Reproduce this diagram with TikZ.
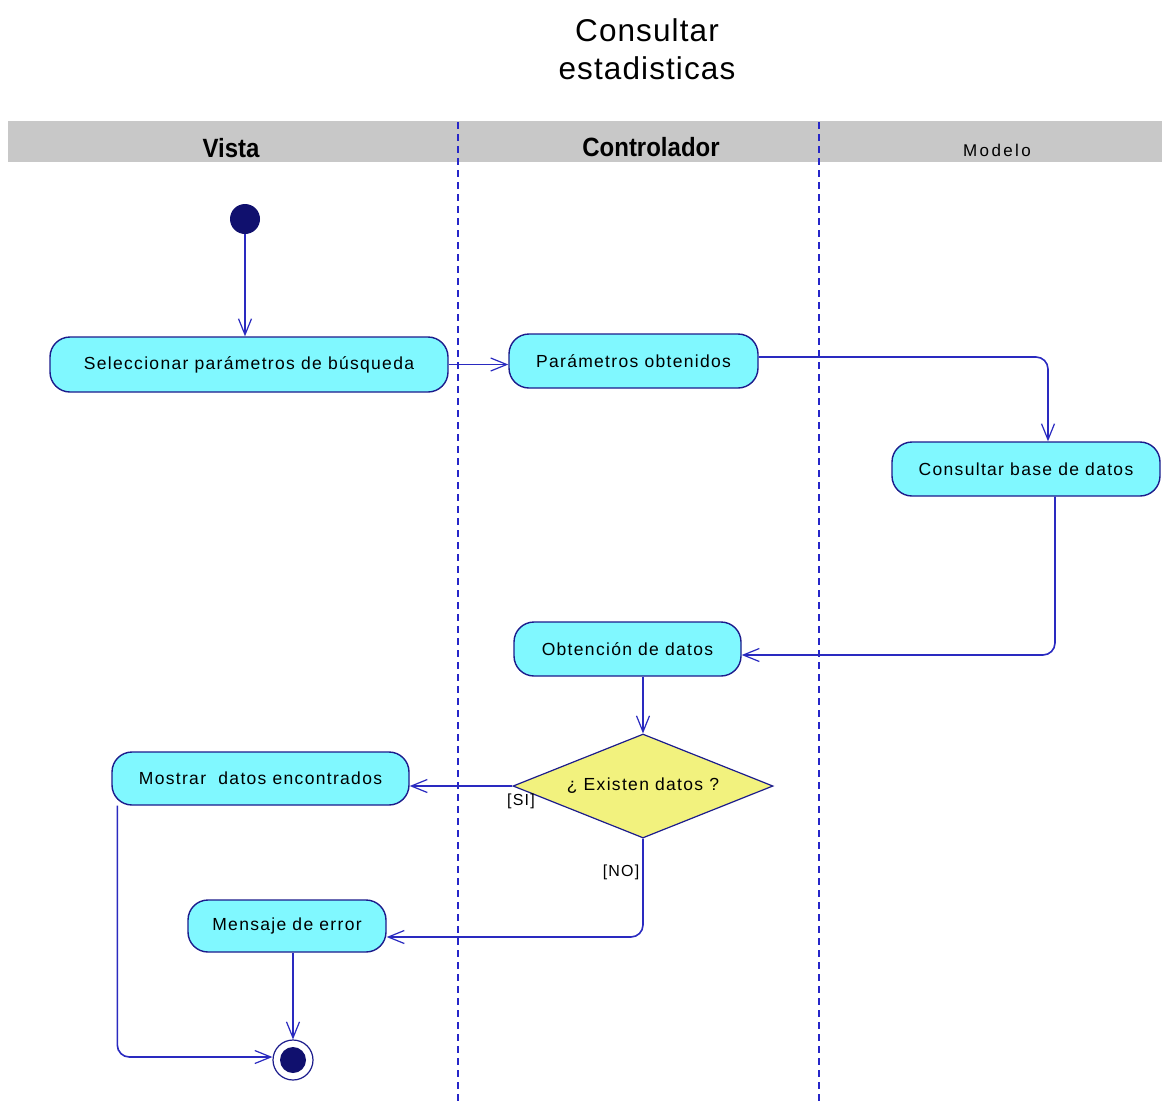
\documentclass[tikz,border=0pt]{standalone}
\usepackage{fontspec}
\setmainfont{Liberation Sans}
\newfontfamily\uifont[LetterSpace=7.5]{Liberation Sans}
\newfontfamily\smallfont[LetterSpace=14]{Liberation Sans}
\newfontfamily\titlefont[LetterSpace=3.5]{Liberation Sans}
\newfontfamily\lanefont{Liberation Sans}
\usetikzlibrary{shapes.geometric,arrows.meta,calc}
\definecolor{actfill}{HTML}{80F8FF}
\definecolor{actdraw}{HTML}{1C1C8C}
\definecolor{flow}{HTML}{2A2AC0}
\definecolor{decfill}{HTML}{F2F27E}
\definecolor{navy}{HTML}{10106E}
\definecolor{band}{HTML}{C8C8C8}
\definecolor{lane}{HTML}{2626C8}
\tikzset{
  activity/.style={draw=actdraw, line width=1.4pt, fill=actfill, rounded corners=20pt,
    inner sep=0pt, align=center, font=\uifont\fontsize{17.5}{20}\selectfont},
  decision/.style={draw=actdraw, line width=1.2pt, fill=decfill, diamond, inner sep=0pt,
    minimum width=260pt, minimum height=104pt},
  flowline/.style={draw=flow, line width=1.6pt, rounded corners=12pt,
    -{Straight Barb[length=16pt,width=13pt,line width=1.2pt]}},
  guard/.style={font=\uifont\fontsize{16}{18}\selectfont, inner sep=0pt},
  laneline/.style={draw=lane, line width=1.3pt, dash pattern=on 7pt off 5pt},
}
\begin{document}
\begin{tikzpicture}[x=1pt,y=-1pt]
  \useasboundingbox (0,0) rectangle (1162,1104);
  \fill[white] (0,0) rectangle (1162,1104);

  % title
  \node[font=\titlefont\fontsize{31.5}{38}\selectfont, align=center] (title) at (647,49)
    {Consultar\\estadisticas};

  % swimlane header band
  \fill[band] (8,121) rectangle (1162,162);
  \node[font=\lanefont\bfseries\fontsize{24}{28}\selectfont, yscale=1.1] (vista) at (231,148) {Vista};
  \node[font=\lanefont\bfseries\fontsize{24}{28}\selectfont, yscale=1.1] (ctrl) at (651,147) {Controlador};
  \node[font=\smallfont\fontsize{17}{20}\selectfont] (modelo) at (997,150) {Modelo};

  % lane separators
  \draw[laneline] (458,122) -- (458,1104);
  \draw[laneline] (819,122) -- (819,1104);

  % activities
  \node[circle, fill=navy, minimum size=30pt, inner sep=0pt] (start) at (245,219) {};
  \node[activity, minimum width=398pt, minimum height=55pt] (sel) at (249,364.5)
    {Seleccionar parámetros de búsqueda};
  \node[activity, minimum width=249pt, minimum height=54pt] (par) at (633.5,361)
    {Parámetros obtenidos};
  \node[activity, minimum width=268pt, minimum height=54pt] (cons) at (1026,469)
    {Consultar base de datos};
  \node[activity, minimum width=227pt, minimum height=54pt] (obt) at (627.5,649)
    {Obtención de datos};
  \node[decision, label={[font=\uifont\fontsize{17.5}{20}\selectfont]center:¿ Existen datos ?}]
    (dec) at (643,786) {};
  \node[activity, minimum width=297pt, minimum height=53pt] (mos) at (260.5,778.5)
    {Mostrar\ \ datos encontrados};
  \node[activity, minimum width=198pt, minimum height=52pt] (err) at (287,926)
    {Mensaje de error};
  \node[circle, draw=actdraw, line width=1.2pt, fill=white, minimum size=40pt, inner sep=0pt] (end) at (293,1060) {};
  \fill[navy] (end.center) circle (13pt);

  % flows
  \draw[flowline] (start.south) -- (start.south |- sel.north);
  \draw[flowline] (sel.east) -- (sel.east -| par.west);
  \draw[flowline] ($(par.east)+(0,-4)$) -| ($(cons.north)+(22,0)$);
  \draw[flowline] ($(cons.south)+(29,0)$) |- ($(obt.east)+(0,6)$);
  \draw[flowline] (obt.south -| dec.north) -- (dec.north);
  \draw[flowline] (dec.west) -- (dec.west -| mos.east);
  \draw[flowline] (dec.south) |- ($(err.east)+(0,11)$);
  \draw[flowline] (err.south -| end.north) -- (end.north);
  \draw[flowline] ($(mos.south west)+(6,0)$) |- ($(end.west)+(0,-3)$);

  % guards
  \node[guard] (si) at (521,801) {[SI]};
  \node[guard] (no) at (621,872) {[NO]};
\end{tikzpicture}
\end{document}
